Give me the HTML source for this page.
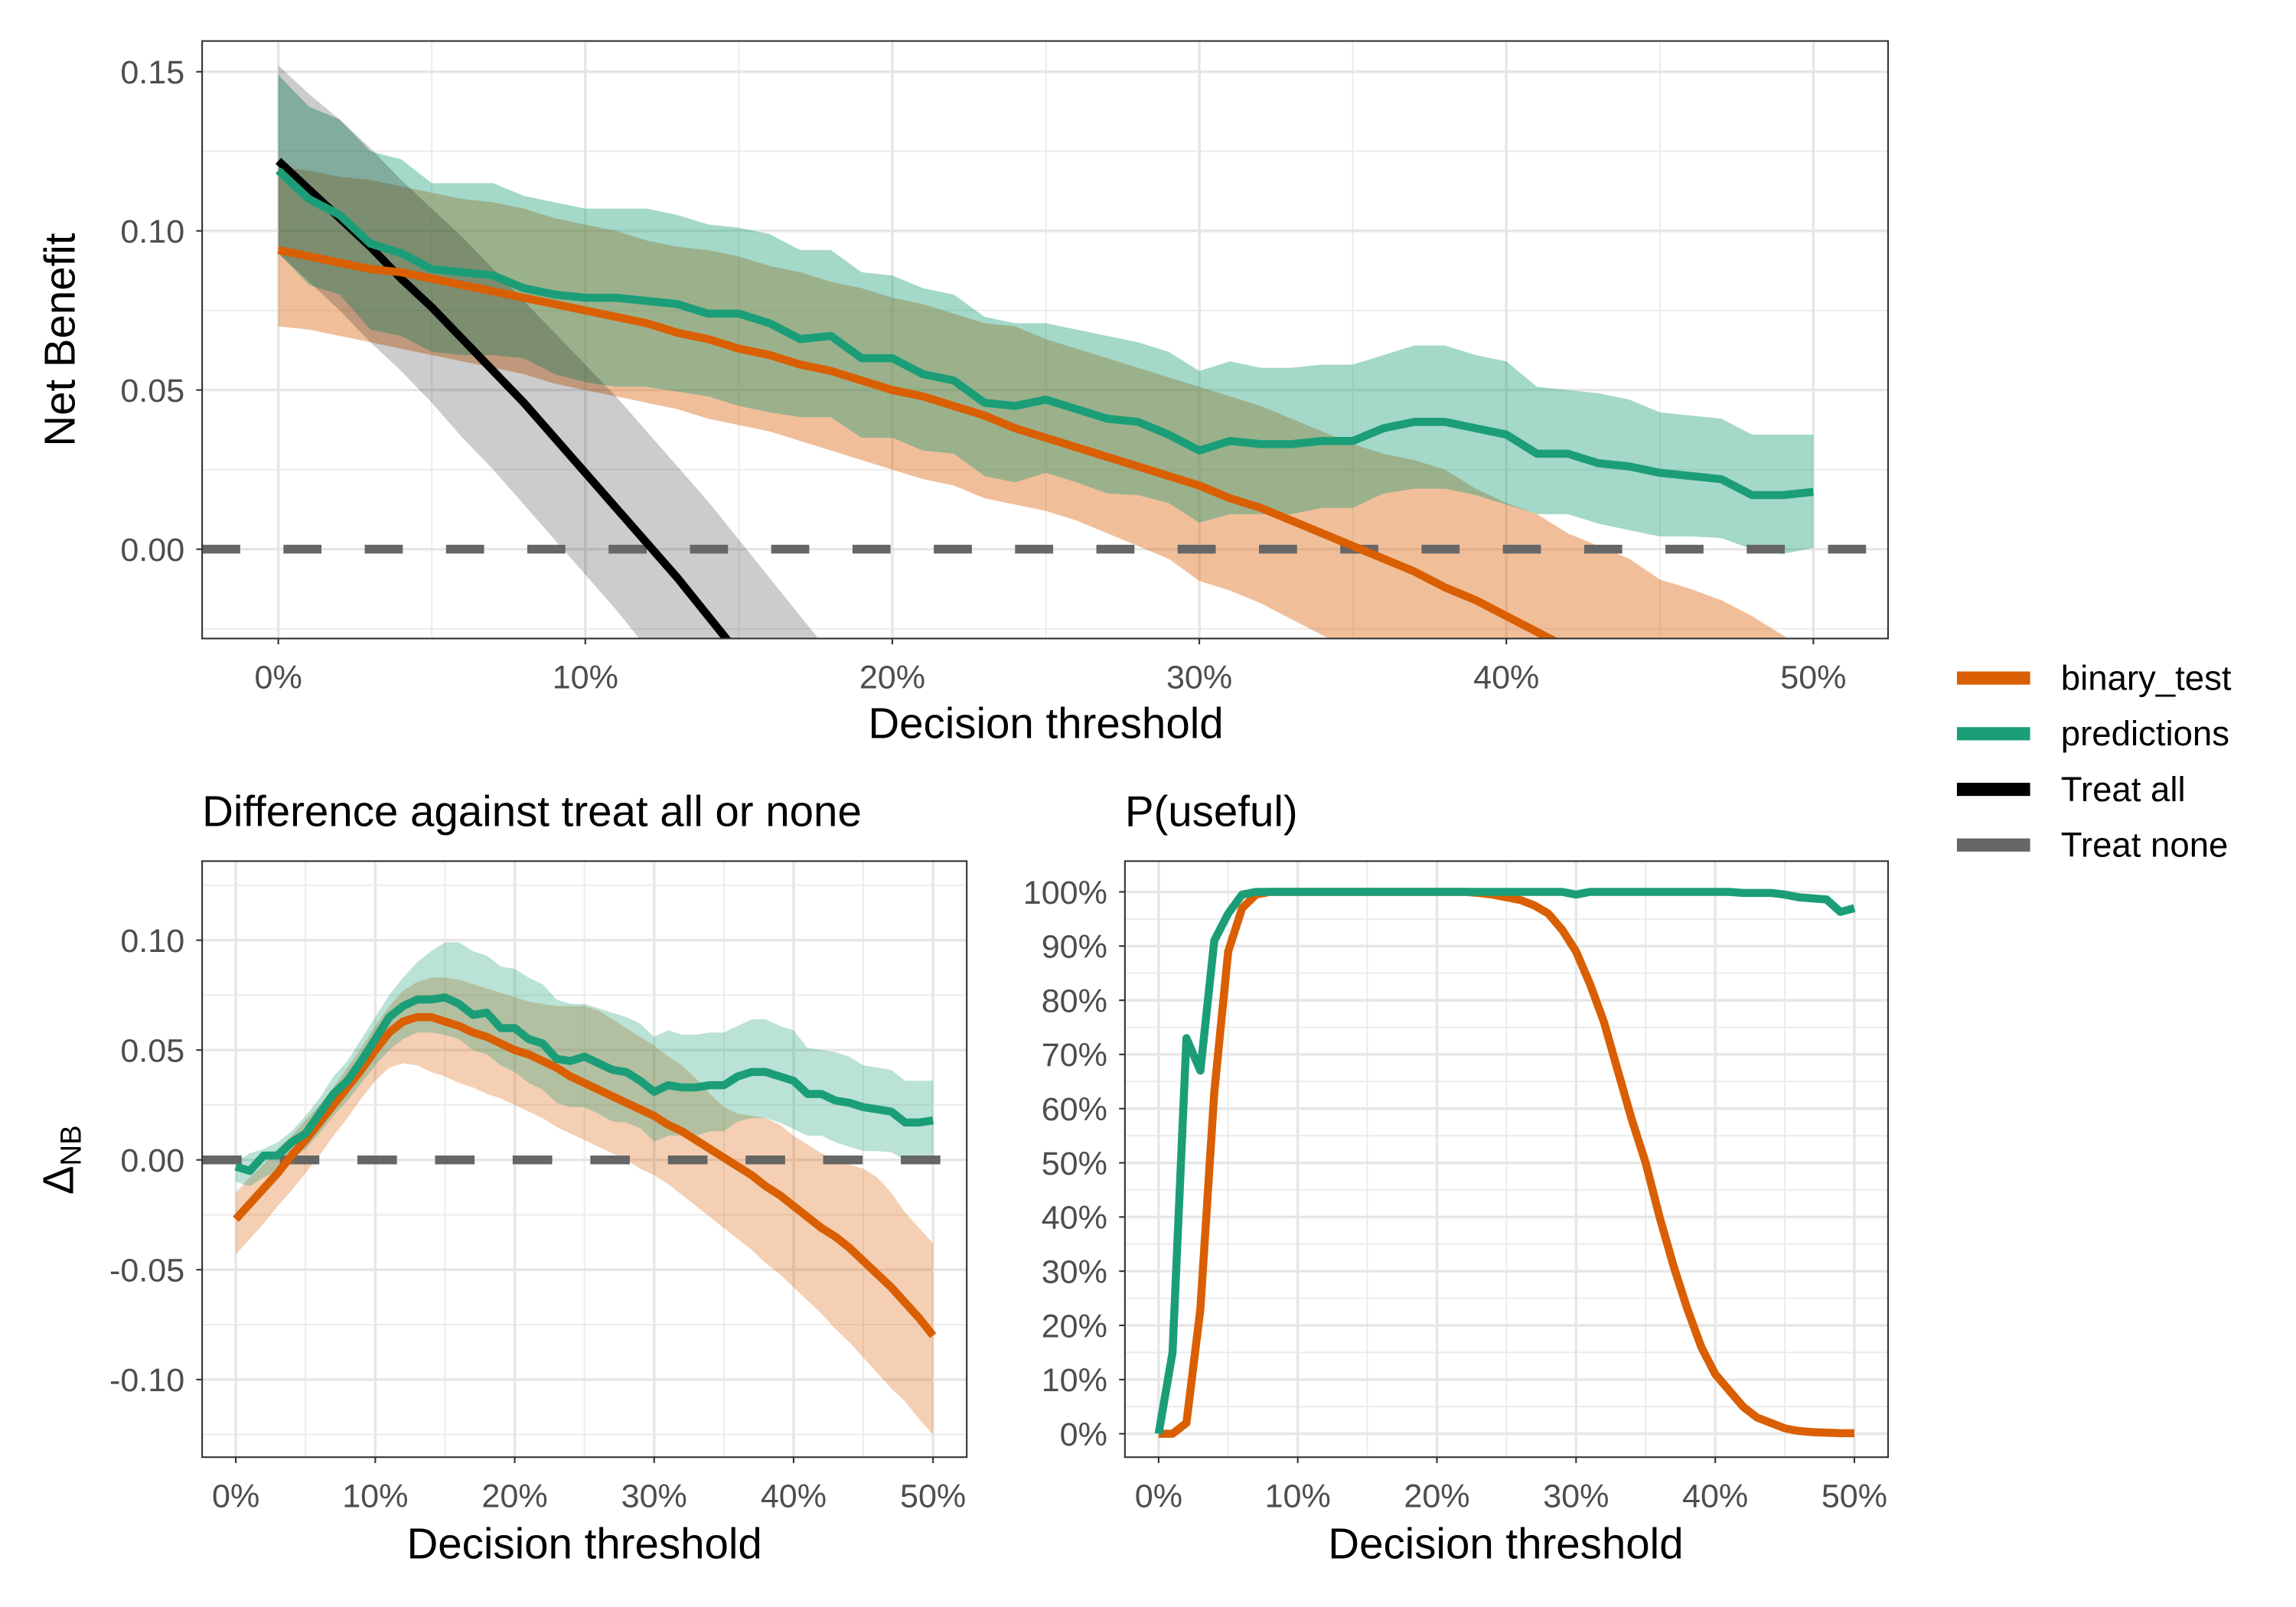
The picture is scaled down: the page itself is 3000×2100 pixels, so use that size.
<!DOCTYPE html>
<html><head><meta charset="utf-8">
<style>
html,body{margin:0;padding:0;background:#fff;}
svg{display:block;font-family:"Liberation Sans",Arial,sans-serif;}
</style></head>
<body>
<svg id="chart" width="3000" height="2100" viewBox="0 0 1567.5 1097.3" preserveAspectRatio="none" xmlns="http://www.w3.org/2000/svg">
<defs>
<clipPath id="clipTop"><rect x="138" y="28" width="1151" height="408"/></clipPath>
<clipPath id="clipBL"><rect x="138" y="588" width="522" height="407"/></clipPath>
<clipPath id="clipBR"><rect x="768" y="588" width="521" height="407"/></clipPath>
</defs>
<g id="top"></g>
<g id="bl"></g>
<g id="br"></g>
<g id="legend"></g>
</svg>
<script>
// thresholds in percent
const thresholds = [0,1,2,3,4,5,6,7,8,9,10,11,12,13,14,15,16,17,18,19,20,21,22,23,24,25,26,27,28,29,30,31,32,33,34,35,36,37,38,39,40,41,42,43,44,45,46,47,48,49,50];
// Net benefit: predictions
const predNB = [0.119,0.110,0.105,0.096,0.093,0.088,0.087,0.086,0.082,0.080,0.079,0.079,0.078,0.077,0.074,0.074,0.071,0.066,0.067,0.060,0.060,0.055,0.053,0.046,0.045,0.047,0.044,0.041,0.040,0.036,0.031,0.034,0.033,0.033,0.034,0.034,0.038,0.040,0.040,0.038,0.036,0.030,0.030,0.027,0.026,0.024,0.023,0.022,0.017,0.017,0.018];
const predHi = [0.149,0.139,0.135,0.125,0.1225,0.115,0.115,0.115,0.111,0.109,0.107,0.107,0.107,0.105,0.102,0.101,0.099,0.094,0.094,0.087,0.086,0.082,0.080,0.073,0.071,0.071,0.069,0.067,0.065,0.062,0.056,0.059,0.057,0.057,0.058,0.058,0.061,0.064,0.064,0.061,0.059,0.051,0.050,0.049,0.047,0.043,0.042,0.041,0.036,0.036,0.036];
const predLo = [0.093,0.083,0.080,0.069,0.067,0.062,0.061,0.061,0.060,0.055,0.0525,0.051,0.051,0.0495,0.048,0.045,0.043,0.0415,0.0415,0.035,0.035,0.031,0.030,0.023,0.021,0.024,0.021,0.0175,0.017,0.0145,0.0083,0.011,0.011,0.011,0.013,0.013,0.0175,0.019,0.019,0.017,0.014,0.011,0.011,0.008,0.006,0.004,0.004,0.0035,0.000,-0.0015,0.0004];
// Net benefit: binary_test
const binNB = [0.094,0.092,0.090,0.088,0.087,0.085,0.083,0.081,0.079,0.077,0.075,0.073,0.071,0.068,0.066,0.063,0.061,0.058,0.056,0.053,0.050,0.048,0.045,0.042,0.038,0.035,0.032,0.029,0.026,0.023,0.020,0.016,0.013,0.009,0.005,0.001,-0.003,-0.007,-0.012,-0.016,-0.021,-0.026,-0.031,-0.035,-0.040,-0.046,-0.052,-0.058,-0.065,-0.072,-0.080];
const binHi = [0.120,0.119,0.117,0.116,0.114,0.112,0.110,0.109,0.107,0.104,0.102,0.100,0.097,0.095,0.094,0.092,0.089,0.087,0.084,0.082,0.079,0.077,0.074,0.071,0.070,0.066,0.063,0.060,0.057,0.054,0.051,0.048,0.045,0.041,0.037,0.033,0.030,0.028,0.025,0.019,0.0145,0.011,0.005,0.001,-0.003,-0.0095,-0.0125,-0.016,-0.021,-0.027,-0.033];
const binLo = [0.070,0.069,0.067,0.065,0.063,0.061,0.059,0.057,0.055,0.052,0.050,0.048,0.046,0.044,0.041,0.039,0.037,0.034,0.031,0.028,0.025,0.022,0.020,0.016,0.014,0.012,0.009,0.005,0.001,-0.003,-0.010,-0.013,-0.017,-0.022,-0.027,-0.032,-0.037,-0.042,-0.047,-0.052,-0.058,-0.064,-0.070,-0.077,-0.083,-0.090,-0.097,-0.104,-0.110,-0.118,-0.125];
// Treat all
const allX = [0,1,2,3,4,5,6,7,8,9,10,11,12,13,14,15,16,17,18];
const allNB = [0.122,0.113,0.104,0.095,0.085,0.076,0.066,0.056,0.046,0.035,0.024,0.013,0.002,-0.009,-0.021,-0.033,-0.045,-0.057,-0.069];
const allHi = [0.152,0.143,0.135,0.126,0.116,0.107,0.098,0.088,0.078,0.068,0.058,0.048,0.037,0.026,0.015,0.003,-0.009,-0.021,-0.033];
const allLo = [0.093,0.084,0.075,0.065,0.056,0.046,0.035,0.025,0.014,0.003,-0.008,-0.019,-0.031,-0.043,-0.055,-0.067,-0.079,-0.091,-0.103];
// Delta NB
const predD = [-0.003,-0.005,0.002,0.002,0.008,0.012,0.021,0.030,0.036,0.045,0.055,0.065,0.070,0.073,0.073,0.074,0.071,0.066,0.067,0.060,0.060,0.055,0.053,0.046,0.045,0.047,0.044,0.041,0.040,0.036,0.031,0.034,0.033,0.033,0.034,0.034,0.038,0.040,0.040,0.038,0.036,0.030,0.030,0.027,0.026,0.024,0.023,0.022,0.017,0.017,0.018];
const predDHi = [-0.001,0.003,0.005,0.008,0.013,0.020,0.028,0.038,0.045,0.055,0.065,0.075,0.083,0.090,0.095,0.099,0.099,0.095,0.093,0.088,0.087,0.083,0.080,0.073,0.071,0.071,0.069,0.067,0.065,0.062,0.056,0.059,0.057,0.057,0.058,0.058,0.061,0.064,0.064,0.061,0.059,0.051,0.050,0.049,0.047,0.043,0.042,0.041,0.036,0.036,0.036];
const predDLo = [-0.010,-0.012,-0.008,-0.005,0.000,0.005,0.012,0.020,0.027,0.035,0.043,0.050,0.055,0.058,0.058,0.057,0.055,0.050,0.048,0.043,0.040,0.035,0.032,0.026,0.024,0.024,0.021,0.0175,0.017,0.0145,0.0083,0.011,0.011,0.011,0.013,0.013,0.0175,0.019,0.019,0.017,0.014,0.011,0.011,0.008,0.006,0.004,0.004,0.0035,0.000,-0.0015,0.0004];
const binD = [-0.027,-0.020,-0.013,-0.006,0.002,0.009,0.017,0.025,0.033,0.041,0.050,0.058,0.063,0.065,0.065,0.063,0.061,0.058,0.056,0.053,0.050,0.048,0.045,0.042,0.038,0.035,0.032,0.029,0.026,0.023,0.020,0.016,0.013,0.009,0.005,0.001,-0.003,-0.007,-0.012,-0.016,-0.021,-0.026,-0.031,-0.035,-0.040,-0.046,-0.052,-0.058,-0.065,-0.072,-0.080];
const binDHi = [-0.015,-0.008,-0.002,0.005,0.011,0.018,0.025,0.033,0.042,0.051,0.061,0.070,0.077,0.081,0.083,0.083,0.082,0.080,0.078,0.076,0.074,0.072,0.071,0.070,0.070,0.070,0.068,0.064,0.060,0.056,0.052,0.047,0.043,0.037,0.030,0.024,0.021,0.020,0.019,0.016,0.011,0.007,0.003,0.000,-0.002,-0.004,-0.008,-0.015,-0.024,-0.031,-0.038];
const binDLo = [-0.043,-0.036,-0.029,-0.021,-0.014,-0.006,0.002,0.011,0.019,0.028,0.036,0.042,0.044,0.043,0.040,0.038,0.035,0.033,0.030,0.028,0.025,0.022,0.019,0.015,0.012,0.009,0.006,0.003,0.000,-0.004,-0.007,-0.011,-0.016,-0.021,-0.026,-0.031,-0.036,-0.041,-0.047,-0.052,-0.058,-0.064,-0.070,-0.077,-0.083,-0.090,-0.097,-0.104,-0.110,-0.118,-0.125];
// P(useful) in percent
const predP = [0,15,73,67,91,96,99.5,100,100,100,100,100,100,100,100,100,100,100,100,100,100,100,100,100,100,100,100,100,100,100,99.5,100,100,100,100,100,100,100,100,100,100,100,99.8,99.8,99.8,99.5,99,98.8,98.6,96.3,97];
const binP = [0,0,2,23,63,89,97,99.5,100,100,100,100,100,100,100,100,100,100,100,100,100,100,100,99.8,99.5,99,98.5,97.5,96,93,89,83,76,67,58,50,40,31,23,16,11,8,5,3,2,1,0.5,0.3,0.2,0.1,0.1];
// ticks
const xTickLabels = ["0%","10%","20%","30%","40%","50%"];
const xTicks = [0,10,20,30,40,50];
const topYTicks = [0,0.05,0.10,0.15];
const topYLabels = ["0.00","0.05","0.10","0.15"];
const blYTicks = [-0.10,-0.05,0,0.05,0.10];
const blYLabels = ["-0.10","-0.05","0.00","0.05","0.10"];
const brYTicks = [0,10,20,30,40,50,60,70,80,90,100];
const brYLabels = ["0%","10%","20%","30%","40%","50%","60%","70%","80%","90%","100%"];

const NS = "http://www.w3.org/2000/svg";
const ORANGE = "#D95F02", GREEN = "#1B9E77";
const TICK_FS = 22.5, TITLE_FS = 29.5;
function mk(parent, tag, attrs){ const e=document.createElementNS(NS,tag); for(const k in attrs) e.setAttribute(k,attrs[k]); parent.appendChild(e); return e; }
function lin(d0,d1,r0,r1){ return v => r0 + (v-d0)*(r1-r0)/(d1-d0); }

function panel(g, box, xs, ys, yMajor, yMinor, yLabels, clip){
  const bg = mk(g,'rect',{x:box.x,y:box.y,width:box.w,height:box.h,fill:'#fff'});
   
  const grid = mk(g,'g',{});
   
  const xMinor=[5,15,25,35,45];
  yMinor.forEach(v=>{ const y=ys(v); mk(grid,'line',{x1:box.x,x2:box.x+box.w,y1:y,y2:y,stroke:'#EBEBEB','stroke-width':1}); });
  xMinor.forEach(v=>{ const x=xs(v); mk(grid,'line',{x1:x,x2:x,y1:box.y,y2:box.y+box.h,stroke:'#EBEBEB','stroke-width':1}); });
  yMajor.forEach(v=>{ const y=ys(v); mk(grid,'line',{x1:box.x,x2:box.x+box.w,y1:y,y2:y,stroke:'#E6E6E6','stroke-width':1.8}); });
  xTicks.forEach(v=>{ const x=xs(v); mk(grid,'line',{x1:x,x2:x,y1:box.y,y2:box.y+box.h,stroke:'#E6E6E6','stroke-width':1.8}); });
  const data = mk(g,'g',{'clip-path':'url(#'+clip+')'});
  xTicks.forEach((v,i)=>{
    const x=xs(v);
    mk(g,'line',{x1:x,x2:x,y1:box.y+box.h,y2:box.y+box.h+4,stroke:'#333','stroke-width':1.1});
    const t=mk(g,'text',{x:x,y:box.y+box.h+34,'text-anchor':'middle','font-size':TICK_FS,fill:'#4D4D4D'});
    t.textContent=xTickLabels[i];
     
  });
  yMajor.forEach((v,i)=>{
    const y=ys(v);
    mk(g,'line',{x1:box.x-4,x2:box.x,y1:y,y2:y,stroke:'#333','stroke-width':1.1});
    const t=mk(g,'text',{x:box.x-12,y:y+8,'text-anchor':'end','font-size':TICK_FS,fill:'#4D4D4D'});
    t.textContent=yLabels[i];
     
  });
  return data;
}
function ribbon(g, xsArr, lo, hi, xs, ys, fill, op, name){
  let d='M'+xsArr.map((v,i)=>xs(v).toFixed(2)+','+ys(hi[i]).toFixed(2)).join('L');
  for(let i=xsArr.length-1;i>=0;i--) d+='L'+xs(xsArr[i]).toFixed(2)+','+ys(lo[i]).toFixed(2);
  const p=mk(g,'path',{d:d+'Z',fill:fill,'fill-opacity':op,stroke:'none'});
   
}
function line(g, xsArr, vals, xs, ys, color, w, name){
  const d='M'+xsArr.map((v,i)=>xs(v).toFixed(2)+','+ys(vals[i]).toFixed(2)).join('L');
  const p=mk(g,'path',{d:d,fill:'none',stroke:color,'stroke-width':w,'stroke-linejoin':'round'});
   
}
function border(g, box){
  const r=mk(g,'rect',{x:box.x,y:box.y,width:box.w,height:box.h,fill:'none',stroke:'#333','stroke-width':1.1});
   
}
function txt(g, x, y, s, size, anchor, name, rot){
  const a={x:x,y:y,'font-size':size,fill:'#000','text-anchor':anchor};
  if(rot) a.transform='rotate(-90 '+x+' '+y+')';
  const t=mk(g,'text',a); t.textContent=s;
   
  return t;
}

// ---- Top panel
(function(){
  const g=document.getElementById('top');
  const box={x:138,y:28,w:1151,h:408};
  const xs=lin(0,50,190,1238), ys=lin(0,0.15,375,49);
  const d=panel(g,box,xs,ys,topYTicks,[-0.025,0.025,0.075,0.125],topYLabels,'clipTop');
  ribbon(d,thresholds,binLo,binHi,xs,ys,ORANGE,0.4,'binary-test-ci-band');
  ribbon(d,thresholds,predLo,predHi,xs,ys,GREEN,0.4,'predictions-ci-band');
  ribbon(d,allX,allLo,allHi,xs,ys,'#000',0.2,'treat-all-ci-band');
  const n=mk(d,'line',{x1:box.x,x2:box.x+box.w,y1:ys(0),y2:ys(0),stroke:'#666','stroke-width':6,'stroke-dasharray':'26 29.5','stroke-dashoffset':0});
   
  line(d,allX,allNB,xs,ys,'#000',5.5,'treat-all-line');
  line(d,thresholds,binNB,xs,ys,ORANGE,5.5,'binary-test-line');
  line(d,thresholds,predNB,xs,ys,GREEN,5.5,'predictions-line');
  border(g,box);
  txt(g,714,504,'Decision threshold',TITLE_FS,'middle','x-axis-title');
  txt(g,51,232,'Net Benefit',TITLE_FS,'middle','y-axis-title',true);
})();

// ---- Bottom-left panel
(function(){
  const g=document.getElementById('bl');
  const box={x:138,y:588,w:522,h:407};
  const xs=lin(0,50,161,637), ys=lin(0,0.10,792,642);
  const d=panel(g,box,xs,ys,blYTicks,[-0.125,-0.075,-0.025,0.025,0.075,0.125],blYLabels,'clipBL');
  ribbon(d,thresholds,binDLo,binDHi,xs,ys,ORANGE,0.3,'binary-test-delta-band');
  ribbon(d,thresholds,predDLo,predDHi,xs,ys,GREEN,0.3,'predictions-delta-band');
  const n=mk(d,'line',{x1:box.x,x2:box.x+box.w,y1:ys(0),y2:ys(0),stroke:'#666','stroke-width':6,'stroke-dasharray':'27 26','stroke-dashoffset':0});
   
  line(d,thresholds,binD,xs,ys,ORANGE,5.5,'binary-test-delta-line');
  line(d,thresholds,predD,xs,ys,GREEN,5.5,'predictions-delta-line');
  border(g,box);
  txt(g,399,1064,'Decision threshold',TITLE_FS,'middle','x-axis-title');
  txt(g,138,564,'Difference against treat all or none',TITLE_FS,'start','panel-title');
  const yl=mk(g,'text',{x:50,y:792,'font-size':TITLE_FS,'text-anchor':'middle',transform:'rotate(-90 50 792)'});
   
  yl.innerHTML='Δ<tspan font-size="20" dy="5">NB</tspan>';
})();

// ---- Bottom-right panel
(function(){
  const g=document.getElementById('br');
  const box={x:768,y:588,w:521,h:407};
  const xs=lin(0,50,791,1266), ys=lin(0,100,979,609);
  const d=panel(g,box,xs,ys,brYTicks,[5,15,25,35,45,55,65,75,85,95],brYLabels,'clipBR');
  line(d,thresholds,binP,xs,ys,ORANGE,5.5,'binary-test-p-useful-line');
  line(d,thresholds,predP,xs,ys,GREEN,5.5,'predictions-p-useful-line');
  border(g,box);
  txt(g,1028,1064,'Decision threshold',TITLE_FS,'middle','x-axis-title');
  txt(g,768,564,'P(useful)',TITLE_FS,'start','panel-title');
})();

// ---- Legend
(function(){
  const g=document.getElementById('legend');
  const names=['binary_test','predictions','Treat all','Treat none'];
  const cols=[ORANGE,GREEN,'#000','#666'];
  const ys=[463,501,539,577];
  names.forEach((nm,i)=>{
    const e=mk(g,'g',{});
     
    mk(e,'rect',{x:1336,y:ys[i]-4.5,width:50,height:9,fill:cols[i]});
    const t=mk(e,'text',{x:1407,y:ys[i]+8,'font-size':23.8,fill:'#000'});
    t.textContent=nm;
  });
})();
</script>
</body></html>
